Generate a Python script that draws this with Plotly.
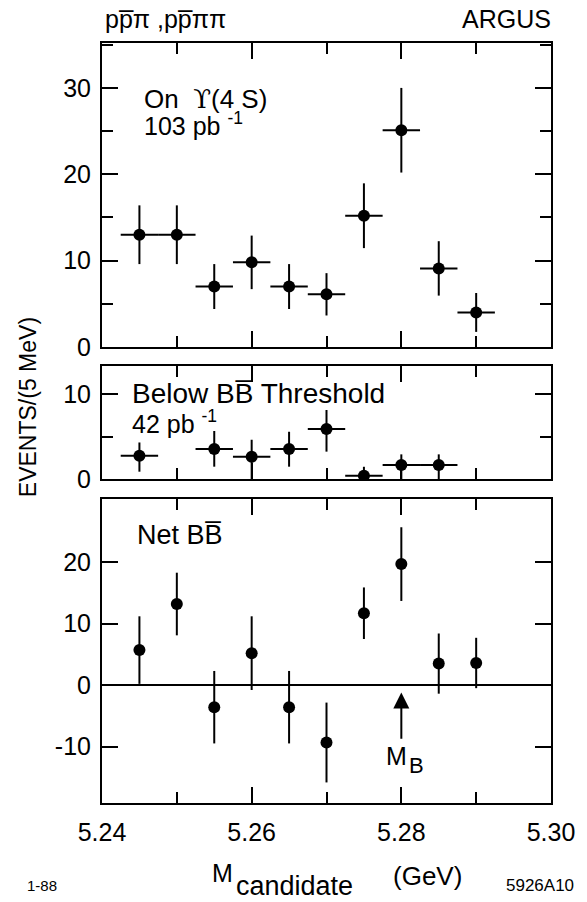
import plotly.graph_objects as go

# ---------------- data ----------------
bins_on = [5.245, 5.250, 5.255, 5.260, 5.265, 5.270, 5.275, 5.280, 5.285, 5.290]
on_counts = [13.0, 13.0, 7.0, 9.8, 7.0, 6.1, 15.2, 25.1, 9.1, 4.0]
on_err = [3.4, 3.4, 2.6, 3.1, 2.6, 2.45, 3.75, 4.9, 3.15, 2.25]

bins_below = [5.245, 5.255, 5.260, 5.265, 5.270, 5.275, 5.280, 5.285]
below_counts = [2.74, 3.53, 2.62, 3.53, 5.88, 0.39, 1.65, 1.65]
below_err_plus = [1.56, 2.12, 2.0, 2.03, 2.24, 1.05, 1.25, 1.25]
below_err_minus = [1.88, 2.08, 2.62, 2.08, 2.66, 0.39, 1.65, 1.65]

bins_net = [5.245, 5.250, 5.255, 5.260, 5.265, 5.270, 5.275, 5.280, 5.285, 5.290]
net_counts = [5.7, 13.2, -3.6, 5.2, -3.6, -9.35, 11.7, 19.7, 3.5, 3.6]
net_err = [5.5, 5.1, 5.9, 6.0, 5.9, 6.5, 4.2, 6.0, 4.9, 4.1]

bin_half_width = 0.0025
m_b = 5.28
x_tickvals = [5.24, 5.26, 5.28, 5.30]
x_ticktext = ["5.24", "5.26", "5.28", "5.30"]

FONT = "Liberation Sans, Arial, Helvetica, sans-serif"
SERIF = "DejaVu Serif, Liberation Serif, serif"
W, H = 587, 902
L, R, T, B = 102, 558, 43, 803   # plot area pixel box

def px(x):
    return (x - L) / (R - L)

def py(y):
    return (B - y) / (B - T)

fig = go.Figure()

mk = dict(color="black", size=12, symbol="circle")
fig.add_trace(go.Scatter(
    x=bins_on, y=on_counts, mode="markers", marker=mk, xaxis="x", yaxis="y",
    error_y=dict(type="data", array=on_err, thickness=2, width=0, color="black"),
    error_x=dict(type="constant", value=bin_half_width, thickness=2, width=0, color="black"),
    showlegend=False, hoverinfo="skip"))
fig.add_trace(go.Scatter(
    x=bins_below, y=below_counts, mode="markers", marker=mk, xaxis="x2", yaxis="y2",
    error_y=dict(type="data", array=below_err_plus, arrayminus=below_err_minus,
                 symmetric=False, thickness=2, width=0, color="black"),
    error_x=dict(type="constant", value=bin_half_width, thickness=2, width=0, color="black"),
    showlegend=False, hoverinfo="skip"))
fig.add_trace(go.Scatter(
    x=bins_net, y=net_counts, mode="markers", marker=mk, xaxis="x3", yaxis="y3",
    error_y=dict(type="data", array=net_err, thickness=2, width=0, color="black"),
    showlegend=False, hoverinfo="skip"))

def xax(anchor, labels):
    return dict(range=[5.24, 5.30], domain=[0, 1], anchor=anchor,
                showline=True, linecolor="black", linewidth=2, mirror="allticks",
                ticks="inside", ticklen=16, tickwidth=2, tickcolor="black",
                tickvals=x_tickvals, ticktext=x_ticktext, showticklabels=labels,
                minor=dict(tickvals=[5.25, 5.27, 5.29], ticks="inside", ticklen=11,
                           tickwidth=2, tickcolor="black", showgrid=False),
                showgrid=False, zeroline=False,
                tickfont=dict(family=FONT, size=25, color="black"),
                ticklabelstandoff=6)

def yax(anchor, rng, dom, tickvals, minor_vals, zeroline=False):
    d = dict(range=rng, domain=dom, anchor=anchor,
             showline=True, linecolor="black", linewidth=2, mirror="allticks",
             ticks="inside", ticklen=16, tickwidth=2, tickcolor="black",
             tickvals=tickvals, ticktext=[str(v) for v in tickvals],
             showgrid=False, zeroline=zeroline, zerolinecolor="black", zerolinewidth=2,
             tickfont=dict(family=FONT, size=25, color="black"),
             ticklabelstandoff=4)
    if minor_vals:
        d["minor"] = dict(tickvals=minor_vals, ticks="inside", ticklen=11,
                          tickwidth=2, tickcolor="black", showgrid=False)
    return d

dom_top = [py(347), 1.0]
dom_mid = [py(479), py(366)]
dom_bot = [0.0, py(499)]

fig.update_layout(
    width=W, height=H,
    margin=dict(l=L, r=W - R, t=T, b=H - B, pad=0),
    paper_bgcolor="white", plot_bgcolor="white",
    font=dict(family=FONT, color="black"),
    hovermode=False,
    xaxis=xax("y", False),
    xaxis2=xax("y2", False),
    xaxis3=xax("y3", True),
    yaxis=yax("x", [0, 35.2], dom_top, [0, 10, 20, 30], [5, 15, 25, 35]),
    yaxis2=yax("x2", [0, 13.3], dom_mid, [0, 10], [5]),
    yaxis3=yax("x3", [-19.2, 30.3], dom_bot, [-10, 0, 10, 20], None, zeroline=True),
)

ann = []
def text(t, x, y, size=25, xanchor="left", yanchor="middle", **kw):
    ann.append(dict(text=t, x=px(x), y=py(y), xref="paper", yref="paper",
                    xanchor=xanchor, yanchor=yanchor, showarrow=False,
                    font=dict(family=FONT, size=size, color="black"), **kw))

text("pp\u0305\u03c0 ,pp\u0305\u03c0\u03c0", 103, 19, size=25)
text("ARGUS", 560, 19, size=25, xanchor="right")
text("On  <span style='font-family:%s'>\u03d2</span>(4 S)" % SERIF, 143, 99, size=26)
text("103 pb <sup>-1</sup>", 143, 124, size=25)
text("Below BB\u0305 Threshold", 130, 393, size=28)
text("42 pb <sup>-1</sup>", 130, 422, size=25)
text("Net BB\u0305", 136, 535, size=27)
text("M", 401, 756, size=25, xanchor="center")
text("B", 421, 765, size=22, xanchor="center")
text("EVENTS/(5 MeV)", 27, 407, size=23, xanchor="center", textangle=-90)
text("M", 224, 873, size=25, xanchor="center")
text("candidate", 297, 886, size=27, xanchor="center")
text("(GeV)", 433, 876, size=26, xanchor="center")
text("1-88", 41, 885, size=15, xanchor="center")
text("5926A10", 547, 885, size=17, xanchor="center")

ann.append(dict(x=m_b, y=-1.2, ax=m_b, ay=-9.0, xref="x3", yref="y3",
                axref="x3", ayref="y3", showarrow=True, arrowhead=2,
                arrowsize=1.6, arrowwidth=2, arrowcolor="black", text=""))

fig.update_layout(annotations=ann)
fig.write_html(
    "out.html",
    config={"displayModeBar": False},
    post_script="document.body.style.margin='0';"
                "document.documentElement.style.overflow='hidden';",
)
